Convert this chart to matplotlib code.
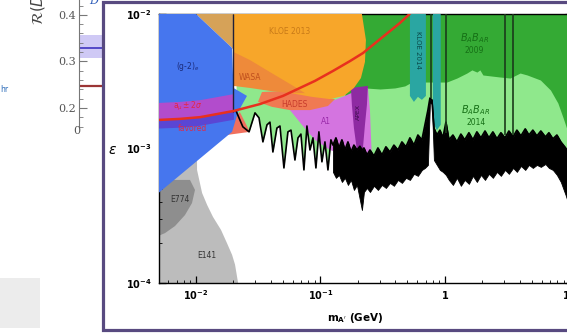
import numpy as np
import matplotlib
matplotlib.use("Agg")
import matplotlib.pyplot as plt
from matplotlib.patches import Rectangle
from matplotlib.ticker import FixedLocator, LogLocator, NullFormatter, MultipleLocator

W, H = 567, 333

# --- neighbouring panel on the left (cut off): R(D) values ---
rd_ticks = [0.2, 0.3, 0.4]
rd_tick_labels = ["0.2", "0.3", "0.4"]
rd_sm = 0.247
rd_exp = 0.329
rd_exp_lo, rd_exp_hi = 0.307, 0.357

# --- dark photon exclusion plot: mass (GeV) vs epsilon ---
e141_m = [0.005, 0.0218, 0.0206, 0.0195, 0.0177, 0.0159, 0.0137, 0.0123, 0.0112, 0.0102, 0.0102, 0.005]
e141_eps = [1.0e-4, 1.0e-4, 1.37e-4, 1.62e-4, 1.99e-4, 2.48e-4, 3.10e-4, 3.80e-4, 4.67e-4, 6.93e-4, 1.16e-3, 1.16e-3]

e774_m = [0.005, 0.00895, 0.00982, 0.00929, 0.00816, 0.00678, 0.00564, 0.005]
e774_eps = [5.84e-4, 5.84e-4, 4.92e-4, 3.93e-4, 3.20e-4, 2.65e-4, 2.35e-4, 2.24e-4]

ae_m = [0.005, 0.0100, 0.0195, 0.020, 0.0257, 0.0218, 0.0195, 0.005]
ae_eps = [1.0e-2, 1.0e-2, 5.59e-3, 2.82e-3, 2.46e-3, 1.87e-3, 1.33e-3, 4.67e-4]

tan_m = [0.0100, 0.020, 0.020, 0.0195]
tan_eps = [1.0e-2, 1.0e-2, 5.39e-3, 5.59e-3]

red_patch_m = [0.0156, 0.0225, 0.0271]
red_patch_eps = [1.24e-3, 1.87e-3, 1.33e-3]

kloe13_m = [0.020, 0.2154, 0.232, 0.2279, 0.2115, 0.1858, 0.1544, 0.1192, 0.0855, 0.0636, 0.0473, 0.0339, 0.0247, 0.020]
kloe13_eps = [1.0e-2, 1.0e-2, 6.41e-3, 4.40e-3, 3.34e-3, 2.82e-3, 2.46e-3, 2.33e-3, 2.42e-3, 2.54e-3, 2.68e-3, 2.77e-3, 2.97e-3, 3.12e-3]

wasa_m = [0.020, 0.0271, 0.0393, 0.0569, 0.0752, 0.0569, 0.0393, 0.0271, 0.020]
wasa_eps = [5.22e-3, 4.55e-3, 3.70e-3, 3.02e-3, 2.58e-3, 2.58e-3, 2.68e-3, 2.82e-3, 2.92e-3]

hades_m = [0.0315, 0.0339, 0.0519, 0.0824, 0.1308, 0.1149, 0.0824, 0.0569, 0.0408]
hades_eps = [2.22e-3, 2.63e-3, 2.68e-3, 2.50e-3, 2.33e-3, 2.07e-3, 1.93e-3, 1.93e-3, 2.04e-3]

a1_m = [0.0569, 0.0824, 0.1192, 0.1573, 0.2002, 0.2407, 0.250, 0.2544, 0.2593, 0.2076, 0.1573, 0.1192, 0.0903, 0.0710]
a1_eps = [1.93e-3, 2.00e-3, 2.22e-3, 2.46e-3, 2.72e-3, 2.82e-3, 1.93e-3, 1.26e-3, 8.21e-4, 8.50e-4, 8.95e-4, 9.75e-4, 1.16e-3, 1.50e-3]

apex_m = [0.1758, 0.2407, 0.2363, 0.2279, 0.2196, 0.1964, 0.1858, 0.179]
apex_eps = [2.82e-3, 2.92e-3, 2.11e-3, 1.50e-3, 1.01e-3, 9.75e-4, 1.42e-3, 2.11e-3]

kloe14_m = [0.5235, 0.7037, 0.7037, 0.6534, 0.6068, 0.5637, 0.5235]
kloe14_eps = [1.0e-2, 1.0e-2, 2.46e-3, 2.30e-3, 2.42e-3, 2.22e-3, 2.46e-3]
kloe14b_m = [0.800, 0.926, 0.926, 0.862, 0.800]
kloe14b_eps = [1.0e-2, 1.0e-2, 1.50e-3, 1.37e-3, 1.57e-3]

# BaBar 2009: lower edge (excluded up to top)
bb09_m = [0.1573, 0.2076, 0.2279, 0.301, 0.396, 0.4766, 0.543, 0.7165, 1.036, 1.248, 1.502, 1.648,
          1.807, 1.91, 2.02, 2.77, 3.34, 4.02, 4.58, 5.85, 7.05, 8.08, 8.87, 9.62, 11.0]
bb09_eps = [2.42e-3, 2.72e-3, 2.82e-3, 2.77e-3, 2.82e-3, 2.92e-3, 3.12e-3, 3.12e-3, 3.12e-3, 3.34e-3, 3.64e-3, 3.84e-3,
            3.70e-3, 3.84e-3, 3.52e-3, 3.40e-3, 3.34e-3, 3.64e-3, 3.52e-3, 3.23e-3, 2.72e-3, 2.18e-3, 1.71e-3, 1.37e-3, 8.21e-4]

# BaBar 2014 limit, low mass part (oscillating line)
lim_m = [0.0210, 0.0238, 0.0267, 0.0298, 0.0321, 0.0345, 0.0372, 0.0393, 0.0415, 0.0447, 0.0473, 0.0509, 0.0548, 0.0580,
         0.0624, 0.0660, 0.0697, 0.0737, 0.0779, 0.0824, 0.0871, 0.0920, 0.0972, 0.1028, 0.1087, 0.1149, 0.1214]
lim_eps = [1.90e-3, 1.45e-3, 1.33e-3, 1.84e-3, 1.69e-3, 1.12e-3, 1.50e-3, 1.57e-3, 9.42e-4, 1.42e-3, 1.47e-3, 7.17e-4, 1.33e-3, 1.37e-3,
           8.21e-4, 1.20e-3, 1.28e-3, 6.93e-4, 1.47e-3, 9.75e-4, 1.20e-3, 7.17e-4, 1.33e-3, 7.96e-4, 1.12e-3, 6.93e-4, 1.16e-3]

# BaBar 2014 limit, dense noisy part (upper / lower envelope)
band_m = [0.126, 0.1332, 0.1408, 0.1488, 0.1573, 0.1663, 0.1758, 0.1858, 0.1964, 0.2076, 0.2154, 0.2236, 0.2363,
          0.250, 0.2690, 0.2896, 0.3119, 0.3358, 0.3616, 0.3894, 0.4193, 0.4515, 0.4862, 0.5235, 0.5637, 0.6068,
          0.6534, 0.691, 0.7302, 0.758, 0.786, 0.816, 0.862, 0.912, 0.963, 1.019, 1.077, 1.16, 1.248, 1.344, 1.442,
          1.559, 1.678, 1.807, 1.946, 2.10, 2.256, 2.43, 2.617, 2.818, 3.04, 3.267, 3.53, 3.788, 4.08, 4.42, 4.73,
          5.09, 5.48, 5.90, 6.42, 6.85, 7.37, 7.94, 8.54, 9.33, 9.91, 11.0]
band_top = [1.06e-3, 1.20e-3, 1.01e-3, 1.16e-3, 9.75e-4, 1.12e-3, 9.42e-4, 1.06e-3, 9.75e-4, 1.04e-3, 9.75e-4, 1.01e-3, 8.95e-4,
            9.75e-4, 8.80e-4, 1.01e-3, 8.95e-4, 1.03e-3, 9.42e-4, 1.06e-3, 9.75e-4, 1.12e-3, 1.03e-3, 1.20e-3, 1.06e-3, 1.26e-3,
            1.16e-3, 1.50e-3, 1.93e-3, 2.37e-3, 2.30e-3, 1.42e-3, 1.26e-3, 1.37e-3, 1.20e-3, 1.57e-3, 1.16e-3, 1.26e-3, 1.12e-3, 1.28e-3, 1.16e-3,
            1.31e-3, 1.16e-3, 1.33e-3, 1.20e-3, 1.35e-3, 1.20e-3, 1.33e-3, 1.18e-3, 1.31e-3, 1.20e-3, 1.35e-3, 1.22e-3, 1.37e-3, 1.24e-3, 1.40e-3, 1.26e-3,
            1.37e-3, 1.24e-3, 1.35e-3, 1.22e-3, 1.31e-3, 1.18e-3, 1.26e-3, 1.12e-3, 1.01e-3, 8.95e-4, 8.21e-4]
band_low = [6.70e-4, 6.05e-4, 6.36e-4, 5.64e-4, 6.05e-4, 5.36e-4, 5.84e-4, 4.92e-4, 5.36e-4, 4.14e-4, 3.49e-4, 4.75e-4, 5.09e-4,
            4.75e-4, 5.28e-4, 4.92e-4, 5.36e-4, 5.09e-4, 5.55e-4, 5.28e-4, 5.84e-4, 5.55e-4, 6.05e-4, 5.84e-4, 6.48e-4, 6.26e-4,
            6.93e-4, 7.17e-4, 7.55e-4, 2.22e-3, 2.14e-3, 8.21e-4, 7.55e-4, 6.93e-4, 6.70e-4, 6.36e-4, 5.84e-4, 5.36e-4, 6.05e-4, 5.28e-4, 5.84e-4,
            5.46e-4, 6.26e-4, 5.64e-4, 6.36e-4, 5.84e-4, 6.48e-4, 6.05e-4, 6.70e-4, 6.26e-4, 6.93e-4, 6.48e-4, 7.17e-4, 6.70e-4, 7.42e-4, 6.93e-4, 7.55e-4,
            7.17e-4, 7.55e-4, 7.30e-4, 7.67e-4, 7.17e-4, 6.93e-4, 6.36e-4, 5.64e-4, 4.51e-4, 3.80e-4, 3.49e-4]

# muon g-2 favoured line and band
amu_m = [0.005, 0.00744, 0.0108, 0.020, 0.0327, 0.050, 0.0685, 0.0903, 0.126, 0.173, 0.22, 0.316, 0.435, 0.52]
amu_eps = [1.63e-3, 1.66e-3, 1.71e-3, 1.90e-3, 2.14e-3, 2.46e-3, 2.82e-3, 3.18e-3, 3.77e-3, 4.47e-3, 5.13e-3, 6.74e-3, 8.57e-3, 1.0e-2]
amu_hi = [2.20e-3, 2.24e-3, 2.31e-3, 2.56e-3]
amu_lo = [1.42e-3, 1.44e-3, 1.49e-3, 1.65e-3]

veto_m = [0.77, 1.02, 3.04, 3.53]
veto_lo = [2.37e-3, 1.30e-3, 1.25e-3, 1.25e-3]


def fpos(x, y):
    return x / W, 1 - y / H


fig = plt.figure(figsize=(W / 100, H / 100), dpi=100)
fig.patch.set_facecolor("white")

# ---- left panel ----
axr = fig.add_axes([79 / W, 1 - 127 / H, 0.2, 127 / H])
axr.set_ylim(0.159, 0.432)
axr.set_xlim(0, 1)
axr.axhspan(rd_exp_lo, rd_exp_hi, color="#cfc9f5", lw=0)
axr.axhline(rd_exp, color="#4a3ec4", lw=1.3)
axr.axhline(rd_sm, color="#9b3535", lw=1.6)
for s in ["top", "right", "bottom"]:
    axr.spines[s].set_visible(False)
axr.spines["left"].set_color("#777777")
axr.set_xticks([])
axr.set_yticks(rd_ticks)
axr.set_yticklabels(rd_tick_labels, family="DejaVu Serif", color="#555555", fontsize=8)
axr.yaxis.set_minor_locator(MultipleLocator(0.02))
axr.tick_params(axis="y", which="major", direction="in", length=6, width=0.8, color="#777777", pad=2)
axr.tick_params(axis="y", which="minor", direction="in", length=3, width=0.6, color="#777777")
fig.text(*fpos(77, 131), "0", family="DejaVu Serif", color="#555555", fontsize=8, ha="center", va="center")
fig.text(*fpos(38, 25), r"$\mathcal{R}(D^{(*)})$", rotation=90, ha="center", va="bottom",
         fontsize=11, color="#444444")
fig.text(*fpos(0, 89), "hr", color="#2a6ab8", fontsize=5.5, ha="left", va="center")
fig.text(*fpos(94, 1), "D", color="#2a5ab8", fontsize=8, style="italic", family="DejaVu Serif",
         ha="center", va="center")

fig.add_artist(Rectangle((0, 5 / H), 40 / W, 50 / H, transform=fig.transFigure,
                         facecolor="#ececec", edgecolor="none", zorder=1))
fig.add_artist(Rectangle((103 / W, 3 / H), 1.2, 328 / H, transform=fig.transFigure,
                         facecolor="white", edgecolor="#584a80", lw=2.3, zorder=1))

# ---- main panel ----
ax = fig.add_axes([158.5 / W, 1 - 283 / H, (572 - 158.5) / W, 269 / H])
ax.set_zorder(2)
ax.set_xscale("log")
ax.set_yscale("log")
ax.set_xlim(0.005, 10.5)
ax.set_ylim(1e-4, 1e-2)

lim_all_m = np.concatenate([lim_m, band_m])
lim_all_eps = np.concatenate([lim_eps, band_top])

ax.fill(e141_m, e141_eps, color="#bcbcbc", lw=0, zorder=1)
ax.fill(e774_m, e774_eps, color="#8e8e8e", lw=0, zorder=1.1)
ax.fill_between(lim_all_m, lim_all_eps, 1e-2, color="#8fe88c", lw=0, zorder=1)
ax.fill_between(bb09_m, bb09_eps, 1e-2, color="#34aa34", lw=0, zorder=2)
ax.fill(kloe14_m, kloe14_eps, color="#2aa6a2", lw=0, zorder=3)
ax.fill(kloe14b_m, kloe14b_eps, color="#2aa6a2", lw=0, zorder=3)
ax.fill(a1_m, a1_eps, color="#d474e0", lw=0, zorder=4)
ax.fill(apex_m, apex_eps, color="#8e2aa2", lw=0, zorder=4.5)
ax.fill(hades_m, hades_eps, color="#f07a52", lw=0, zorder=5)
ax.fill(kloe13_m, kloe13_eps, color="#f7a62a", lw=0, zorder=6)
ax.fill(wasa_m, wasa_eps, color="#ee8a3a", lw=0, zorder=6.5)
ax.fill(tan_m, tan_eps, color="#d6a258", lw=0, zorder=6.5)
ax.fill(red_patch_m, red_patch_eps, color="#f0705e", lw=0, zorder=6.8)
ax.fill(ae_m, ae_eps, color="#4676ee", lw=0, zorder=7)
ax.fill_between(amu_m[:4], amu_eps[:4], amu_hi, color="#b24ccc", lw=0, zorder=7.5)
ax.fill_between(amu_m[:4], amu_lo, amu_eps[:4], color="#5a46d4", lw=0, zorder=7.5)

ax.fill_between(band_m, band_low, band_top, color="black", edgecolor="black", lw=0.6, zorder=8)
ax.plot(lim_all_m, lim_all_eps, color="black", lw=1.2, zorder=8.5)
ax.vlines(veto_m, veto_lo, 1e-2, colors="#1b3b1b", lw=1.2, zorder=9)
ax.vlines([0.02], [1.87e-3], [1e-2], colors="#202038", lw=1.0, zorder=9)
ax.plot(amu_m, amu_eps, color="#e8301e", lw=1.8, zorder=10)

lab = dict(fontsize=5.5, ha="center", va="center", zorder=11)
ax.text(0.00862, 4.1e-3, r"(g-2)$_e$", color="#1c2c7c", **lab)
ax.text(0.0569, 7.35e-3, "KLOE 2013", color="#c87a18", **lab)
ax.text(0.0271, 3.40e-3, "WASA", color="#c0501e", **lab)
ax.text(0.0613, 2.14e-3, "HADES", color="#c83c2c", **lab)
ax.text(0.1107, 1.60e-3, "A1", color="#9a2aaa", **lab)
ax.text(0.2038, 1.87e-3, "APEX", color="#3a0a4a", rotation=90, fontsize=4.5, ha="center", va="center", zorder=11)
ax.text(0.6068, 5.39e-3, "KLOE 2014", color="#0a4a4a", rotation=270, fontsize=5, ha="center", va="center", zorder=11)
ax.text(1.73, 6.63e-3, r"$B_A B_{AR}$", color="#167016", fontsize=7, ha="center", va="center", zorder=11)
ax.text(1.73, 5.31e-3, "2009", color="#167016", **lab)
ax.text(1.77, 1.93e-3, r"$B_A B_{AR}$", color="#167016", fontsize=7, ha="center", va="center", zorder=11)
ax.text(1.77, 1.55e-3, "2014", color="#167016", **lab)
ax.text(0.00744, 4.21e-4, "E774", color="#333333", **lab)
ax.text(0.0123, 1.59e-4, "E141", color="#333333", **lab)
ax.text(0.00862, 2.04e-3, r"a$_\mu\pm$2$\sigma$", color="#e02848", **lab)
ax.text(0.00929, 1.42e-3, "favored", color="#e02848", **lab)

ax.xaxis.set_major_locator(FixedLocator([0.01, 0.1, 1, 10]))
ax.set_xticklabels([r"$\mathbf{10^{-2}}$", r"$\mathbf{10^{-1}}$", r"$\mathbf{1}$", r"$\mathbf{10}$"])
ax.yaxis.set_major_locator(FixedLocator([1e-4, 1e-3, 1e-2]))
ax.set_yticklabels([r"$\mathbf{10^{-4}}$", r"$\mathbf{10^{-3}}$", r"$\mathbf{10^{-2}}$"])
ax.xaxis.set_minor_locator(LogLocator(base=10, subs=np.arange(2, 10), numticks=20))
ax.yaxis.set_minor_locator(LogLocator(base=10, subs=np.arange(2, 10), numticks=20))
ax.xaxis.set_minor_formatter(NullFormatter())
ax.yaxis.set_minor_formatter(NullFormatter())
ax.tick_params(which="both", direction="in", top=True, right=True, labelsize=7)
ax.tick_params(which="major", length=5, width=0.9)
ax.tick_params(which="minor", length=2.5, width=0.6)
ax.tick_params(axis="x", pad=4)
ax.tick_params(axis="y", pad=5)
for s in ax.spines.values():
    s.set_linewidth(1.0)

fig.text(*fpos(355, 318), r"$\mathbf{m_{A'}}$ (GeV)", fontsize=7.5, fontweight="bold",
         ha="center", va="center")
fig.text(*fpos(113, 150), r"$\varepsilon$", fontsize=10, ha="center", va="center")

fig.savefig("out.png", dpi=100)
